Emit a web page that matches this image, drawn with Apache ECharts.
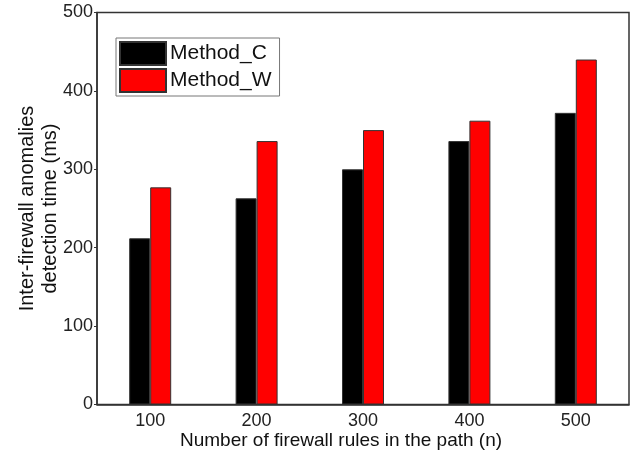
<!DOCTYPE html>
<html>
<head>
<meta charset="utf-8">
<script src="https://cdn.jsdelivr.net/npm/echarts@6/dist/echarts.min.js"></script>
<style>
  html, body { margin: 0; padding: 0; background: #fff; }
  #chart { width: 632px; height: 456px; }
</style>
</head>
<body>
<div id="chart"></div>
<script>
// rules in the path (n)
const ruleCounts = ["100", "200", "300", "400", "500"];
// detection time (ms)
const methodC = [212, 263, 300, 336, 372];
const methodW = [277, 336, 350, 362, 440];

const font = "Liberation Sans, Arial, sans-serif";
const axisColor = "#333";

const chart = echarts.init(document.getElementById("chart"));

chart.setOption({
  animation: false,
  backgroundColor: "#fff",
  textStyle: { fontFamily: font },
  grid: {
    left: 97,
    right: 3,
    top: 12.5,
    bottom: 51.5,
    show: true,
    borderColor: axisColor,
    borderWidth: 1.5,
  },
  legend: {
    orient: "vertical",
    left: 116,
    top: 38,
    icon: "rect",
    itemWidth: 46,
    itemHeight: 23,
    itemGap: 2,
    padding: [3, 8, 3, 3],
    borderColor: "#777",
    borderWidth: 1,
    backgroundColor: "#fff",
    textStyle: { fontFamily: font, fontSize: 21, color: "#111", padding: [0, 0, 0, -1] },
    data: ["Method_C", "Method_W"],
  },
  xAxis: {
    type: "category",
    data: ruleCounts,
    name: "Number of firewall rules in the path (n)",
    nameLocation: "middle",
    nameGap: 27,
    nameMoveOverlap: false,
    nameTextStyle: { fontFamily: font, fontSize: 19, color: "#111", padding: [0, 44, 0, 0] },
    axisLine: { lineStyle: { color: axisColor, width: 1.5 } },
    axisTick: { show: false },
    axisLabel: { fontFamily: font, fontSize: 18, color: "#222", margin: 8 },
  },
  yAxis: {
    type: "value",
    min: 0,
    max: 500,
    interval: 100,
    name: "Inter-firewall anomalies\ndetection time (ms)",
    nameLocation: "middle",
    nameRotate: 90,
    nameGap: 35,
    nameMoveOverlap: false,
    nameTextStyle: { fontFamily: font, fontSize: 20, color: "#111", lineHeight: 23 },
    axisLine: { show: true, lineStyle: { color: axisColor, width: 1.5 } },
    axisTick: { show: true, inside: false, length: 3, lineStyle: { color: axisColor } },
    axisLabel: { fontFamily: font, fontSize: 18, color: "#222", margin: 4 },
    splitLine: { show: false },
  },
  series: [
    {
      name: "Method_C",
      type: "bar",
      data: methodC,
      barWidth: 21,
      barGap: "0%",
      itemStyle: { color: "#000", borderColor: "#333", borderWidth: 1 },
    },
    {
      name: "Method_W",
      type: "bar",
      data: methodW,
      barWidth: 21,
      barGap: "0%",
      itemStyle: { color: "#ff0000", borderColor: "#333", borderWidth: 1 },
    },
  ],
});
</script>
</body>
</html>
